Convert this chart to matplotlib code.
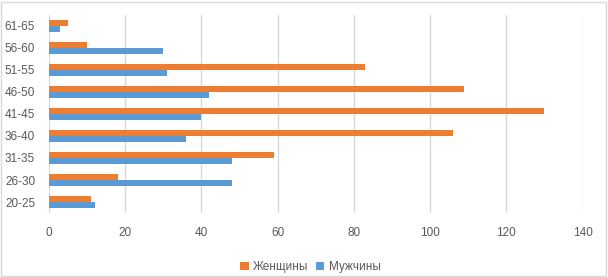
import numpy as np
import matplotlib
matplotlib.use("Agg")
import matplotlib.pyplot as plt
from matplotlib.patches import Rectangle

# data
groups = ["20-25", "26-30", "31-35", "36-40", "41-45", "46-50", "51-55", "56-60", "61-65"]
women = [11, 18, 59, 106, 130, 109, 83, 10, 5]
men = [12, 48, 48, 36, 40, 42, 31, 30, 3]
xticks = [0, 20, 40, 60, 80, 100, 120, 140]

ORANGE = "#ED7D31"
BLUE = "#5B9BD5"
TXT = "#595959"
GRID = "#D9D9D9"

plt.rcParams["font.family"] = ["Liberation Sans", "DejaVu Sans"]

fig = plt.figure(figsize=(6.08, 2.77), dpi=100)
ax = fig.add_axes([0.0806, 0.231, 0.8776, 0.715])

y = np.arange(len(groups))
h = 0.26
ax.barh(y + h / 2, women, height=h, color=ORANGE, label="Женщины", zorder=3)
ax.barh(y - h / 2, men, height=h, color=BLUE, label="Мужчины", zorder=3)

ax.set_xlim(0, 140)
ax.set_ylim(-0.5, len(groups) - 0.5)
ax.set_xticks(xticks)
ax.set_yticks(y)
ax.set_yticklabels(groups)
ax.tick_params(length=0, labelsize=8.5, colors=TXT)
ax.tick_params(axis="x", pad=10)
ax.tick_params(axis="y", pad=10)
ax.grid(axis="x", color=GRID, lw=1, zorder=0)
for s in ax.spines.values():
    s.set_visible(False)

leg = ax.legend(loc="upper center", bbox_to_anchor=(0.49, -0.19), ncol=2, frameon=False,
                fontsize=8.5, handlelength=0.7, handleheight=0.7, handletextpad=0.4,
                columnspacing=0.6)
for t in leg.get_texts():
    t.set_color(TXT)

# light border around the whole chart
fig.patches.append(Rectangle((0.002, 0.004), 0.995, 0.99, transform=fig.transFigure,
                             fill=False, edgecolor=GRID, lw=1))

fig.savefig("out.png", dpi=100)
